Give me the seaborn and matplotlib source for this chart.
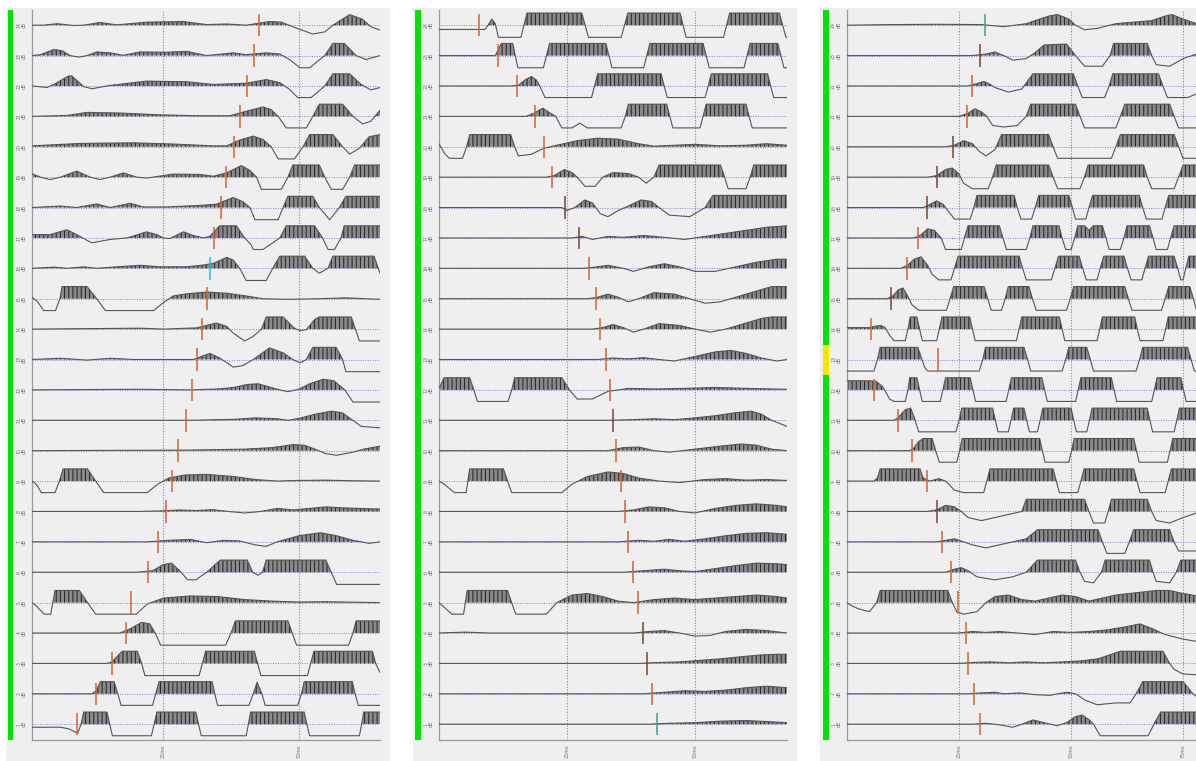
import numpy as np
import pandas as pd
import matplotlib
matplotlib.use("Agg")
import matplotlib.pyplot as plt
from matplotlib.patches import Rectangle
import seaborn as sns

# ---------------------------------------------------------------------------
# Data: three shot gathers, 24 channels each (listed from channel 24 down to 1).
# Each trace is a list of (time in ms, amplitude in trace-spacing units) knots,
# amplitudes already clipped at +/-0.4.
# ---------------------------------------------------------------------------
TRACE_IDS = list(range(24, 0, -1))

left_traces = [
    [(0.75,0),(2.9,0),(5.4,0.05),(8.4,-0.01),(10.3,0),(13.3,0.09),(16.4,0.01),(21.9,0.1),(28.7,0.12),(33,0.02),(36.7,0.04),(40.3,0),(44.6,0.12),(46.8,0.1),(48.9,-0.05),(52.6,-0.29),(54.8,-0.22),(56.3,0),(59.4,0.35),(61.8,0.19),(63.3,-0.05),(65,-0.16)],
    [(0.75,0),(2.3,0.03),(4.8,0.2),(6.3,0.16),(7.8,0),(9.4,-0.05),(10.9,0),(12.7,0.12),(15.2,0.09),(17.6,0.01),(20.7,0.12),(25.6,0.11),(29.3,0.14),(33,0),(37.9,0.09),(40.3,0.03),(44,0.09),(46.5,0.05),(48.3,-0.13),(50.2,-0.4),(52,-0.4),(54.8,0),(56.3,0.4),(58.4,0.4),(60.6,0),(62.4,-0.13),(65,0)],
    [(0.75,0),(3.5,-0.05),(4.8,0.05),(7.5,0.33),(8.1,0.33),(10.3,-0.02),(11.8,-0.09),(15.2,0.02),(21.9,0.16),(29.3,0.14),(34.2,0.05),(40.3,0.09),(44,0.21),(46.5,0.11),(48.3,-0.11),(49.8,-0.38),(52.3,-0.38),(54.8,0),(56.3,0.4),(59.4,0.4),(61.5,0.05),(63.3,-0.13),(65,-0.05)],
    [(0.75,0),(7.2,0.03),(10.9,0.13),(17,0.11),(24.4,0.05),(31.7,0.02),(37.3,0.02),(39.7,0.14),(43.4,0.31),(44.9,0.22),(46.2,0),(47.7,-0.38),(51.4,-0.38),(52.6,0),(53.8,0.4),(58.1,0.4),(60,0),(61.8,-0.25),(63.3,-0.16),(65,0.2)],
    [(0.75,0.03),(9.7,0.11),(19.5,0.13),(26.8,0.09),(34.2,0.03),(36.7,0.03),(39.1,0.22),(41.6,0.35),(43.4,0.24),(44.9,0),(46.2,-0.4),(49.2,-0.4),(50.8,0),(52,0.4),(56.3,0.4),(58.1,0),(59.4,-0.24),(61.2,-0.05),(63,0.33),(65,0.4)],
    [(0.75,0.11),(2.3,0),(4.1,-0.08),(6,0),(9,0.2),(11.5,0),(13.3,-0.08),(15.2,0),(17.6,0.14),(20.1,0),(21.9,-0.03),(26.8,0.1),(31.7,0.09),(34.2,0.03),(36.7,0.14),(39.4,0.38),(41,0.22),(42.2,0),(43.1,-0.4),(46.8,-0.4),(48,0),(48.9,0.4),(53.8,0.4),(54.8,0),(56,-0.4),(58.1,-0.4),(59.4,0),(60.3,0.4),(65,0.4)],
    [(0.75,0),(6,0.05),(9,0),(12.7,0.12),(15.2,0),(18.9,0.14),(21.3,0.02),(25.6,0.02),(31.7,0.07),(34.8,0.11),(37.9,0.33),(39.7,0.19),(41,0),(41.9,-0.4),(46.2,-0.4),(47.1,0),(48,0.37),(52.6,0.37),(53.8,0),(55.7,-0.4),(57.5,0),(58.7,0.37),(65,0.37)],
    [(0.75,0.11),(4.1,0.11),(7.2,0.27),(9,0.11),(10.9,-0.08),(11.8,-0.16),(15.2,-0.05),(18.3,0),(21.9,0.2),(23.8,0.11),(25,0),(26.2,-0.02),(28.7,0.2),(30.5,0.08),(32.4,0),(33.6,0.05),(35.4,0.4),(38.5,0.4),(40,0),(41.2,-0.22),(41.6,-0.38),(43.4,-0.38),(45.2,-0.16),(46.5,0),(47.7,0.4),(52.9,0.4),(54.4,0),(55.4,-0.38),(56.6,-0.38),(57.8,0),(58.4,0.4),(65,0.4)],
    [(0.75,0),(4.8,0.04),(7.2,0),(10.3,0.05),(12.7,0),(16.4,0.05),(20.7,0.1),(24.4,0.05),(29.3,0.05),(32.4,0.11),(34.2,0.16),(36.7,0.36),(37.9,0.27),(39.1,0),(40.3,-0.4),(44,-0.4),(45.2,0),(46.5,0.4),(51.1,0.4),(52.6,0),(53.8,-0.16),(55.4,0),(56.3,0.4),(63.9,0.4),(65,-0.16)],
    [(0.75,0.05),(1.7,-0.08),(2.9,-0.39),(5.1,-0.39),(5.9,0),(6.3,0.4),(10.9,0.4),(12.7,0),(14.3,-0.39),(23.2,-0.39),(25,-0.13),(26.8,0.09),(29.3,0.16),(33,0.22),(36.7,0.18),(40.3,0.09),(43.4,0),(47.7,-0.02),(53.8,0),(58.7,0.03),(65,-0.02)],
    [(0.75,0),(20.7,0.03),(25,0),(31.1,0.04),(34.8,0.2),(36.7,0.09),(37.9,-0.13),(40,-0.39),(41.6,-0.24),(43.1,0),(44,0.4),(47.1,0.4),(49.2,0.03),(50.2,-0.05),(51.4,-0.02),(52.9,0.31),(53.8,0.4),(59.7,0.4),(61.2,-0.39),(65,-0.39)],
    [(0.75,0),(6,0.04),(10.9,-0.02),(15.2,0.04),(19.5,0),(30.5,0),(33.6,0.2),(35.4,0.05),(37.9,-0.25),(39.7,-0.2),(41.6,0),(44.6,0.38),(47.1,0.22),(48.9,0),(50.2,-0.11),(51.4,0),(52.6,0.4),(56.9,0.4),(58.1,0),(58.7,-0.4),(65,-0.4)],
    [(0.75,0),(20,0.02),(30,0),(35,0.03),(38,0.08),(40.5,0.18),(42.5,0.2),(44.5,0.1),(46.5,0),(48,-0.06),(50,0.02),(52,0.2),(54.5,0.35),(56.5,0.3),(58.5,0),(60,-0.4),(65,-0.4)],
    [(0.75,0),(30,0),(38,0.03),(42,0.08),(46,0.05),(48,0),(50,0.06),(53,0.2),(56,0.3),(58,0.25),(60,0),(61.5,-0.2),(65,-0.25)],
    [(0.75,0),(30,0.02),(40,0.05),(45,0.1),(49,0.2),(51,0.18),(53,0.05),(55,-0.1),(57,-0.15),(60,-0.05),(62,0.05),(65,0.15)],
    [(0.75,0),(1.5,-0.1),(2.5,-0.38),(5,-0.38),(5.8,0),(6.5,0.4),(11,0.4),(12.5,0),(14,-0.38),(22,-0.38),(24,-0.1),(26,0.1),(29,0.2),(33,0.22),(38,0.15),(42,0.05),(46,0),(50,0.02),(55,0.03),(60,0.01),(65,0)],
    [(0.75,0),(20,0),(25,0.02),(28,0.05),(31,0.03),(34,0.06),(37,0),(40,-0.05),(43,0),(46,0.1),(49,0.05),(52,0.1),(55,0.15),(58,0.12),(61,0.1),(65,0.08)],
    [(0.75,0),(22,0),(26,0.05),(30,0.08),(33,-0.03),(36,0.05),(39,0.03),(42,-0.1),(44,-0.15),(46,0),(50,0.2),(54,0.3),(57,0.2),(60,0.05),(63,-0.05),(65,0)],
    [(0.75,0),(20,0),(23,0.05),(25,0.25),(26.5,0.3),(28,0.05),(29.5,-0.25),(31,-0.25),(33,0),(35.5,0.4),(40.5,0.4),(41.5,0),(42.5,-0.1),(43.3,0),(44,0.4),(55,0.4),(56,0),(57,-0.4),(65,-0.4)],
    [(0.75,0),(1.5,-0.1),(3,-0.38),(4.2,-0.38),(5,0.4),(9.5,0.4),(11,0),(12.5,-0.38),(20,-0.38),(22,-0.05),(25,0.15),(30,0.22),(35,0.2),(40,0.1),(45,0.05),(50,0.02),(55,0.03),(65,0)],
    [(0.75,0),(17,0),(19,0.15),(21,0.35),(22.5,0.3),(23.5,0),(24.5,-0.4),(36.5,-0.4),(37.5,0),(38.3,0.4),(48,0.4),(48.8,0),(49.6,-0.4),(59.2,-0.4),(60,0),(60.6,0.4),(65,0.4)],
    [(0.75,0),(14.5,0),(15.5,0.05),(17.4,0.4),(20.2,0.4),(21,0),(21.6,-0.4),(31.6,-0.4),(32.2,0),(32.8,0.4),(41.8,0.4),(42.4,0),(43,-0.4),(51.6,-0.4),(52.2,0),(52.8,0.4),(63.6,0.4),(64.2,0),(65,-0.3)],
    [(0.75,0),(11.8,0),(12.6,0.1),(13.4,0.4),(15.9,0.4),(16.6,0),(17.2,-0.38),(23,-0.38),(23.6,0),(24.2,0.4),(34,0.4),(34.5,0),(35,-0.38),(40.8,-0.38),(41.6,0),(42.3,0.38),(43.2,0),(43.8,-0.38),(49.8,-0.38),(50.5,0),(51,0.4),(59.9,0.4),(60.4,0),(61,-0.38),(65,-0.38)],
    [(0.75,-0.1),(6,-0.1),(7.5,-0.15),(9.2,-0.3),(9.8,0),(10.3,0.4),(14.6,0.4),(15.1,0),(15.6,-0.38),(22.8,-0.38),(23.3,0),(23.8,0.4),(31,0.4),(31.5,0),(32,-0.38),(40.3,-0.38),(40.7,0),(41.1,0.4),(51,0.4),(51.5,0),(52,-0.38),(61.2,-0.38),(61.6,0),(62,0.4),(65,0.4)],
]
left_picks = [42.7, 41.7, 40.5, 39.1, 38.1, 36.5, 35.6, 34.4, 33.6, 33.1, 32.2, 31.3,
              30.3, 29.2, 27.7, 26.6, 25.5, 24.0, 22.2, 19.0, 18.1, 15.5, 12.6, 9.1]
left_pick_kind = ["o"] * 8 + ["c"] + ["o"] * 15

middle_traces = [
    [(0,-0.14),(9,-0.14),(9.6,0),(10.3,0.2),(11,0.05),(11.6,-0.4),(16,-0.4),(17.2,0.4),(27.9,0.4),(29.2,-0.4),(35.6,-0.4),(36.9,0.4),(47.1,0.4),(48.3,-0.4),(55.6,-0.4),(56.8,0.4),(66.5,0.4),(67.8,-0.4),(68,-0.4)],
    [(0,0),(11,0),(12.2,0.4),(14.4,0.4),(15.4,-0.4),(20.4,-0.4),(21.6,0.4),(32.6,0.4),(33.8,-0.4),(40,-0.4),(41.2,0.4),(51.6,0.4),(52.8,-0.4),(59.6,-0.4),(60.8,0.4),(66.2,0.4),(67.4,-0.4),(68,-0.4)],
    [(0,0),(14,0),(15.5,0.02),(17,0.22),(18.1,0.31),(19,0.2),(19.7,0),(20.7,-0.38),(29.8,-0.38),(30.4,0),(31,0.4),(43.4,0.4),(44,0),(44.6,-0.38),(52,-0.38),(52.6,0),(53.2,0.4),(64.2,0.4),(64.8,0),(65.4,-0.38),(68,-0.38)],
    [(0,0),(17,0),(18.5,0.1),(20.3,0.27),(21.8,0.1),(22.8,0),(24,-0.38),(26,-0.38),(27.5,-0.22),(29,-0.38),(35.6,-0.38),(36.4,0),(37,0.4),(44.5,0.4),(45.1,0),(45.7,-0.38),(51,-0.38),(51.6,0),(52.2,0.4),(60,0.4),(60.6,0),(61.2,-0.38),(68,-0.38)],
    [(0,0.1),(1,-0.2),(2,-0.38),(4.6,-0.38),(5.4,0),(6,0.4),(14,0.4),(14.8,0),(15.5,-0.3),(18,-0.25),(20.5,-0.05),(23,0.05),(27,0.2),(31,0.28),(35,0.25),(39,0.1),(42,0.02),(46,0.05),(50,0.08),(55,0.03),(60,0.05),(64,0.1),(68,0.05)],
    [(0,0),(21,0),(22.5,0.05),(24.5,0.25),(26,0.15),(27,0),(28.5,-0.3),(30.5,-0.3),(32,0),(34,0.15),(37,0.12),(39,0),(40.5,-0.2),(42,0),(43,0.4),(55,0.4),(55.8,0),(56.5,-0.38),(60,-0.38),(60.8,0),(61.5,0.4),(68,0.4)],
    [(0,0),(24,0),(25,-0.1),(26.5,0),(28.5,0.25),(30,0.15),(31.5,-0.2),(33,-0.3),(35,-0.1),(37,0.05),(39.5,0.25),(41.5,0.2),(43,0),(45,-0.25),(49,-0.3),(52,0),(53.5,0.4),(68,0.4)],
    [(0,0),(26,0),(28,0.05),(30,-0.05),(33,0.05),(36,0.02),(40,0.08),(44,0.02),(48,-0.05),(52,0.05),(56,0.15),(60,0.25),(64,0.35),(68,0.4)],
    [(0,0),(28,0),(30,0.03),(33,0.1),(36,0),(38,-0.1),(41,0.05),(44,0.15),(47,0.05),(50,-0.1),(54,-0.1),(58,0.05),(62,0.2),(66,0.3),(68,0.3)],
    [(0,0),(29,0),(31,0.05),(33,0.15),(35,0.05),(37,-0.1),(39,0),(42,0.2),(46,0.15),(49,0),(52,-0.15),(55,-0.1),(58,0.05),(62,0.25),(65,0.4),(68,0.4)],
    [(0,0),(30,0),(32,0.05),(34,0.15),(36,0.05),(38,-0.1),(40,0),(43,0.18),(47,0.12),(50,0),(53,-0.1),(56,0),(60,0.2),(63,0.35),(65,0.4),(68,0.4)],
    [(0,0),(31,0),(34,0.05),(37,0.02),(40,0.06),(43,0),(46,-0.05),(50,0.1),(54,0.25),(57,0.3),(60,0.2),(63,0.05),(66,-0.05),(68,0)],
    [(0,0.05),(1,0.4),(6,0.4),(6.8,0),(7.5,-0.38),(13.5,-0.38),(14.2,0),(14.8,0.4),(24,0.4),(25.5,0),(27,-0.3),(30,-0.3),(33,-0.05),(37,0.05),(42,0.03),(48,0.05),(54,0.08),(60,0.05),(68,0.02)],
    [(0,0),(33,0),(38,0.02),(42,0.05),(46,0.02),(50,0.08),(54,0.15),(58,0.25),(61,0.3),(63,0.2),(65,0),(68,-0.2)],
    [(0,0),(33,0),(36,0.1),(39,0.12),(42,0),(45,-0.05),(50,0.05),(55,0.15),(59,0.22),(62,0.18),(65,0.05),(68,0)],
    [(0,0),(1,-0.1),(3,-0.38),(5.3,-0.38),(6,0.4),(12.6,0.4),(13.4,0),(14.2,-0.38),(24,-0.38),(26,-0.1),(29,0.15),(33,0.3),(36,0.25),(39,0.1),(43,0),(47,-0.05),(52,0.05),(56,0.08),(60,0.03),(64,0.05),(68,0.02)],
    [(0,0),(35,0),(38,0.05),(41,0.15),(44,0.12),(47,0),(50,-0.05),(54,0.1),(58,0.2),(62,0.25),(66,0.2),(68,0.15)],
    [(0,0),(35,0),(39,0.05),(42,0.02),(45,0.08),(48,0.02),(52,0.1),(56,0.2),(60,0.28),(64,0.3),(68,0.25)],
    [(0,0),(36,0),(40,0.05),(44,0.1),(47,0.05),(50,0.02),(54,0.12),(58,0.22),(62,0.3),(66,0.28),(68,0.25)],
    [(0,0),(1,-0.15),(2.5,-0.38),(4.8,-0.38),(5.5,0.4),(13.4,0.4),(14.2,0),(15,-0.38),(21,-0.38),(23,0),(26,0.25),(29,0.3),(32,0.2),(35,0.05),(38,0),(42,0.1),(46,0.15),(50,0.1),(54,0.15),(58,0.2),(62,0.25),(66,0.2),(68,0.15)],
    [(0,0),(5,0.03),(10,0),(38,0),(41,0.05),(44,0.08),(47,0),(50,-0.1),(53,-0.08),(56,0.05),(60,0.12),(64,0.08),(68,0)],
    [(0,0),(39,0),(43,0.03),(47,0.05),(51,0.1),(55,0.15),(59,0.22),(63,0.28),(66,0.3),(68,0.3)],
    [(0,0),(40,0),(44,0.05),(48,0.1),(52,0.08),(56,0.12),(60,0.2),(64,0.25),(68,0.2)],
    [(0,0),(41,0),(45,0.03),(50,0.05),(55,0.1),(60,0.12),(65,0.08),(68,0.05)],
]
middle_picks = [7.9, 11.5, 15.2, 18.8, 20.5, 22.1, 24.6, 27.3, 29.3, 30.7, 31.4, 32.6,
                33.4, 34.0, 34.6, 35.5, 36.3, 36.9, 37.9, 38.9, 39.8, 40.6, 41.6, 42.6]
middle_pick_kind = ["o"] * 6 + ["d", "d"] + ["o"] * 5 + ["d"] + ["o"] * 6 + ["d", "d", "o", "t"]

right_traces = [
    [(0,0),(10,0.02),(20,0.03),(30,0.02),(35,-0.05),(40,0.05),(42,0.15),(45,0.3),(47,0.35),(49.5,0.2),(51,0),(53,-0.15),(56,-0.1),(60,0.05),(64,0.1),(68,0.15),(71,0.3),(72.5,0.35),(75,0.2),(79,0)],
    [(0,0),(28,0),(31,0.05),(33,0.12),(35,0),(37,-0.15),(40,-0.1),(42,0.1),(44,0.35),(49,0.38),(51,0),(53,-0.35),(57,-0.35),(58.7,0),(59.5,0.4),(67,0.4),(68,0),(69,-0.3),(72,-0.35),(75,-0.1),(79,0.1)],
    [(0,0),(27,0),(29,0.08),(30.5,0.15),(32,0.05),(33,-0.05),(36,-0.2),(39,-0.1),(40.5,0.2),(41.5,0.4),(50.5,0.4),(51.5,0),(52.5,-0.38),(57.5,-0.38),(58.5,0),(59.3,0.4),(69.5,0.4),(70.5,0),(71.5,-0.38),(76,-0.38),(79,-0.2)],
    [(0,0),(25,0),(27,0.1),(28.5,0.25),(30,0.15),(31.2,0),(32.5,-0.3),(35,-0.35),(38,-0.3),(40,0),(41,0.4),(51,0.4),(52,0),(53,-0.38),(60,-0.38),(61,0),(62,0.4),(72,0.4),(73,0),(74,-0.38),(79,-0.38)],
    [(0,0),(22,0),(24,0.05),(26,0.2),(28,0.1),(29.5,-0.15),(31,-0.3),(33,-0.1),(34.5,0.4),(45,0.4),(46,0),(47,-0.38),(59,-0.38),(60,0),(61,0.4),(73,0.4),(74,0),(75,-0.38),(79,-0.38)],
    [(0,0),(18,0),(20,0.05),(22,0.25),(23.5,0.3),(25,0.1),(26,-0.2),(28,-0.38),(31.5,-0.38),(32.5,0),(33.3,0.4),(45,0.4),(46,0),(47,-0.38),(52,-0.38),(53,0),(53.8,0.4),(66.2,0.4),(67,0),(68,-0.38),(73,-0.38),(74,0),(75,0.4),(79,0.4)],
    [(0,0),(17,0),(18.5,0.1),(20,0.22),(21.5,0.1),(22.5,-0.1),(24,-0.38),(27.5,-0.38),(28.3,0),(29,0.4),(37.3,0.4),(38,0),(38.8,-0.38),(41.2,-0.38),(42,0),(42.8,0.4),(49.5,0.4),(50.3,0),(51,-0.38),(53.3,-0.38),(54,0),(54.8,0.4),(65.2,0.4),(66,0),(66.8,-0.38),(70.3,-0.38),(71,0),(71.8,0.4),(79,0.4)],
    [(0,0),(15,0),(16.5,0.1),(18,0.3),(19.5,0.25),(21,0),(22,-0.38),(25.5,-0.38),(26.2,0),(27,0.4),(34,0.4),(34.8,0),(35.6,-0.38),(40,-0.38),(40.8,0),(41.5,0.4),(47.3,0.4),(48,0),(48.8,-0.38),(50,-0.38),(50.8,0),(51.5,0.4),(53,0.4),(54,0.25),(55,0.4),(57,0.4),(57.8,0),(58.5,-0.38),(61,-0.38),(61.8,0),(62.5,0.4),(67.5,0.4),(68.3,0),(69,-0.38),(71.5,-0.38),(72.2,0),(73,0.4),(79,0.4)],
    [(0,0),(12,0),(13.5,0.1),(15,0.3),(16.5,0.38),(18,0.1),(19,-0.2),(20.5,-0.38),(23.2,-0.38),(24,0),(24.8,0.4),(38.4,0.4),(39.2,0),(40,-0.38),(45.6,-0.38),(46.4,0),(47.2,0.4),(51.8,0.4),(52.6,0),(53.4,-0.38),(55.8,-0.38),(56.5,0),(57.3,0.4),(61.8,0.4),(62.6,0),(63.4,-0.38),(65.8,-0.38),(66.5,0),(67.3,0.4),(73,0.4),(73.8,0),(74.5,-0.38),(75,-0.38),(75.6,0),(76.3,0.4),(79,0.4)],
    [(0,0),(9,0),(10.3,0.1),(11.5,0.3),(12.5,0.35),(13.5,0.1),(14.5,-0.2),(16,-0.38),(22.2,-0.38),(23,0),(23.8,0.4),(30.6,0.4),(31.4,0),(32.2,-0.38),(34.5,-0.38),(35.3,0),(36,0.4),(40.6,0.4),(41.4,0),(42.2,-0.38),(49,-0.38),(49.8,0),(50.6,0.4),(62,0.4),(62.8,0),(63.6,-0.38),(70.2,-0.38),(71,0),(71.8,0.4),(76.5,0.4),(77.3,0),(78,-0.38),(79,-0.38)],
    [(0,0.05),(5,0.05),(6.5,0.1),(7.5,0.12),(8.5,0.05),(9.5,-0.2),(10.5,-0.38),(13,-0.38),(13.6,0),(14.1,0.4),(15.6,0.4),(16.2,0),(16.8,-0.38),(20,-0.38),(20.6,0),(21.2,0.4),(27.4,0.4),(28,0),(28.6,-0.38),(37.8,-0.38),(38.4,0),(39,0.4),(47.4,0.4),(48,0),(48.6,-0.38),(55.8,-0.38),(56.4,0),(57,0.4),(64.2,0.4),(64.8,0),(65.4,-0.38),(70.5,-0.38),(71.1,0),(71.7,0.4),(79,0.4)],
    [(0,-0.38),(6,-0.38),(6.8,0),(7.4,0.4),(15.8,0.4),(16.5,0.1),(17.3,-0.25),(18,-0.38),(29.5,-0.38),(30.3,0),(30.9,0.4),(39.5,0.4),(40.3,0),(41,-0.38),(48,-0.38),(48.8,0),(49.5,0.4),(53.5,0.4),(54.3,0),(55,-0.38),(64.5,-0.38),(65.3,0),(66,0.4),(76,0.4),(76.8,0),(77.5,-0.38),(79,-0.38)],
    [(0,0.3),(5,0.3),(6.5,0.28),(8,0.1),(9.5,-0.3),(10.5,-0.38),(13,-0.38),(13.6,0),(14,0.4),(15.6,0.4),(16.2,0),(16.8,-0.38),(20.8,-0.38),(21.4,0),(22,0.4),(27.5,0.4),(28.1,0),(28.7,-0.38),(35.5,-0.38),(36.1,0),(36.7,0.4),(43.5,0.4),(44.1,0),(44.7,-0.38),(51,-0.38),(51.6,0),(52.2,0.4),(59,0.4),(59.6,0),(60.2,-0.38),(68,-0.38),(68.6,0),(69.2,0.4),(74.5,0.4),(75.1,0),(75.7,-0.38),(79,-0.38)],
    [(0,0),(10.5,0),(11.5,0.1),(13,0.35),(14.2,0.4),(15,0.1),(16,-0.38),(24.3,-0.38),(25,0),(25.6,0.4),(32.5,0.4),(33.1,0),(33.7,-0.38),(36,-0.38),(36.6,0),(37.2,0.4),(39.5,0.4),(40.1,0),(40.7,-0.38),(42.5,-0.38),(43.1,0),(43.7,0.4),(50,0.4),(50.6,0),(51.2,-0.38),(53.5,-0.38),(54.1,0),(54.7,0.4),(67,0.4),(67.6,0),(68.2,-0.38),(73,-0.38),(73.6,0),(74.2,0.4),(79,0.4)],
    [(0,0),(14,0),(15,0.1),(16,0.3),(17,0.4),(19,0.4),(19.8,0),(20.6,-0.38),(24.5,-0.38),(25.1,0),(25.7,0.4),(43,0.4),(43.6,0),(44.2,-0.38),(49.5,-0.38),(50.1,0),(50.7,0.4),(64,0.4),(64.6,0),(65.2,-0.38),(71.5,-0.38),(72.1,0),(72.7,0.4),(79,0.4)],
    [(0,0),(6,0),(6.8,0.1),(7.4,0.4),(16.3,0.4),(17,0.1),(18.5,0),(20.5,0.08),(22,0),(24,-0.3),(26,-0.38),(30.5,-0.38),(31.2,0),(31.9,0.4),(46,0.4),(46.7,0),(47.4,-0.38),(51.5,-0.38),(52.2,0),(52.9,0.4),(64,0.4),(64.7,0),(65.4,-0.38),(71,-0.38),(71.7,0),(72.4,0.4),(79,0.4)],
    [(0,0),(18,0),(20,0.05),(22,0.2),(24,0.15),(25.5,0),(27,-0.2),(30,-0.3),(33,-0.2),(36,-0.1),(39,0),(40,0.4),(53,0.4),(54,0),(55,-0.38),(57.5,-0.38),(58.3,0),(59,0.4),(67,0.4),(68,0),(69,-0.3),(72,-0.38),(75,-0.2),(79,0)],
    [(0,0),(20,0),(22,0.05),(24,0.1),(26,0),(28,-0.1),(31,-0.2),(34,-0.1),(37,0),(40,0.1),(42.5,0.4),(56,0.4),(57,0),(58,-0.38),(62,-0.38),(63,0),(64,0.4),(72,0.4),(73,0),(74,-0.3),(79,-0.3)],
    [(0,0),(22,0),(24,0.1),(25.5,0.15),(27,0.05),(29,-0.15),(33,-0.25),(37,-0.15),(40,0),(42.5,0.4),(51,0.4),(52,0),(53,-0.3),(55,-0.35),(56.8,0),(57.6,0.4),(67.5,0.4),(68.3,0),(69,-0.3),(72,-0.35),(73.5,0),(74.5,0.4),(79,0.4)],
    [(0,0),(1,-0.1),(2.5,-0.2),(5,-0.3),(6.6,0),(7.4,0.4),(22.5,0.4),(23.5,0),(24.5,-0.3),(26,-0.38),(29,-0.3),(31,0),(33,0.2),(36,0.25),(39,0.1),(42,0.05),(45,0.15),(48,0.25),(51,0.2),(54,0.05),(57,0.15),(60,0.25),(63,0.3),(66,0.35),(69,0.4),(72,0.4),(75,0.3),(79,0.2)],
    [(0,0),(25,0),(28,0.05),(31,0.02),(34,0.05),(38,0),(42,-0.05),(46,0.05),(50,0.02),(54,0.05),(58,0.1),(62,0.2),(65.4,0.3),(68,0.15),(71,-0.05),(75,-0.2),(79,-0.3)],
    [(0,0),(25,0),(28,0.03),(32,0.05),(36,0.02),(40,0.05),(44,0.02),(48,0.05),(52,0.08),(56,0.15),(59,0.3),(61,0.4),(70.5,0.4),(72,0),(73,-0.2),(75,-0.35),(79,-0.38)],
    [(0,0),(27,0),(30,0.03),(33,0.05),(35,0),(38.6,0.03),(42,-0.03),(45.3,-0.05),(47,0),(49.1,0.05),(51,0),(53,-0.2),(55.8,-0.36),(60,-0.3),(63.2,-0.3),(64.5,0),(66,0.4),(75,0.4),(77.2,0),(79,-0.2)],
    [(0,0),(28,0),(31,0.03),(34,-0.02),(37,-0.1),(39,0),(41.5,0.14),(44,0.05),(46.9,-0.05),(49,0.05),(51,0.25),(52.5,0.3),(54,0.15),(55,0),(56.5,-0.38),(67.2,-0.38),(68.5,0),(70,0.4),(79,0.4)],
]
right_picks = [30.8, 29.7, 27.9, 26.8, 23.7, 20.1, 17.9, 15.8, 13.4, 9.8, 5.4, 20.2,
               6.0, 11.4, 14.5, 17.9, 20.1, 21.2, 23.2, 24.8, 26.6, 27.0, 28.3, 29.7]
right_pick_kind = ["t", "d", "o", "o", "d", "d", "d", "o", "o", "d", "o", "o",
                   "o", "o", "o", "o", "d", "o", "o", "o", "o", "o", "o", "o"]
right_status = ["ok"] * 11 + ["warn"] + ["ok"] * 12

TICKS_MS = [25, 50, 75]

# ---------------------------------------------------------------------------
PICK_COLORS = {"o": "#d9622c", "c": "#19c6d6", "t": "#3f9e96", "d": "#6e4634"}
STATUS_COLORS = {"ok": "#00e600", "warn": "#f5e600"}
PANEL_BG = "#efefef"
WIGGLE = "#555555"
FILL_FACE = "#8a8a8a"
FILL_HATCH = "#222222"
GRID_BLUE = "#8080d0"

W, H = 1196, 761
sns.set_style("white")
plt.rcParams["hatch.linewidth"] = 0.7
fig = plt.figure(figsize=(W / 100, H / 100), dpi=100)
fig.patch.set_facecolor("white")


def frac_box(x0, y0, x1, y1):
    """Pixel box (top-left origin) -> figure fraction [l, b, w, h]."""
    return [x0 / W, 1 - y1 / H, (x1 - x0) / W, (y1 - y0) / H]


def draw_gather(bg, bar, axbox, xlim, traces, picks, kinds, status):
    l, b, w, h = frac_box(*bg)
    fig.add_artist(Rectangle((l, b), w, h, transform=fig.transFigure,
                             facecolor=PANEL_BG, edgecolor="none", zorder=0))
    ax = fig.add_axes(frac_box(*axbox))
    ax.set_facecolor("none")
    ax.set_xlim(*xlim)
    ax.set_ylim(0.48, 24.5)

    # status strip beside the channel labels, one cell per channel
    bl, bb, bw, bh = frac_box(*bar)
    step = bh / 24.0
    for i, tid in enumerate(TRACE_IDS):
        y0 = bb + bh - (i + 1) * step
        fig.add_artist(Rectangle((bl, y0), bw, step, transform=fig.transFigure,
                                 facecolor=STATUS_COLORS[status[i]],
                                 edgecolor="none", zorder=1))

    # reference lines
    for tid in TRACE_IDS:
        ax.axhline(tid, color=GRID_BLUE, lw=0.7, ls=(0, (1, 1.5)), zorder=1)
    for tk in TICKS_MS:
        if xlim[0] < tk < xlim[1]:
            ax.axvline(tk, color=GRID_BLUE, lw=0.8, ls=(0, (1, 1.5)), zorder=1)

    # variable-area wiggle traces
    rows = []
    for tid, knots in zip(TRACE_IDS, traces):
        t = np.array([k[0] for k in knots], dtype=float)
        a = np.array([k[1] for k in knots], dtype=float)
        ax.fill_between(t, tid, tid + a, where=a > 0, interpolate=True,
                        facecolor=FILL_FACE, edgecolor=FILL_HATCH, hatch="||||",
                        linewidth=0, zorder=2)
        rows.append(pd.DataFrame({"t": t, "y": tid + a, "trace": tid}))
    df = pd.concat(rows, ignore_index=True)
    sns.lineplot(data=df, x="t", y="y", units="trace", estimator=None, sort=False,
                 color=WIGGLE, linewidth=0.8, ax=ax, legend=False, zorder=3)

    # first-break picks
    for tid, tp, kd in zip(TRACE_IDS, picks, kinds):
        ax.vlines(tp, tid - 0.37, tid + 0.37, color=PICK_COLORS[kd], lw=1.1, zorder=4)

    # channel labels
    for tid in TRACE_IDS:
        ax.text(-0.038, tid, f"{tid}", transform=ax.get_yaxis_transform(),
                rotation=90, fontsize=3.3, color="#707070", ha="center", va="center")
        ax.text(-0.022, tid, "dB", transform=ax.get_yaxis_transform(),
                rotation=90, fontsize=3.3, color="#707070", ha="center", va="center")

    shown = [tk for tk in TICKS_MS if xlim[0] < tk < xlim[1]]
    ax.set_xticks(shown)
    ax.set_xticklabels([f"{tk}ms" for tk in shown], rotation=90, fontsize=3.5,
                       color="#707070")
    ax.tick_params(axis="x", length=0, pad=3)
    ax.set_yticks([])
    ax.set_xlabel("")
    ax.set_ylabel("")
    for side in ("top", "right"):
        ax.spines[side].set_visible(False)
    for side in ("left", "bottom"):
        ax.spines[side].set_color("#9a9a9a")
        ax.spines[side].set_linewidth(0.9)
    return ax


draw_gather((6, 8, 390, 761), (8, 10, 13, 740), (32, 10, 380, 740), (0.75, 65.0),
            left_traces, left_picks, left_pick_kind, ["ok"] * 24)
draw_gather((413, 8, 797, 761), (415, 10, 421, 740), (439, 10, 787, 740), (0.0, 68.0),
            middle_traces, middle_picks, middle_pick_kind, ["ok"] * 24)
draw_gather((820, 8, 1205, 761), (823, 10, 829, 740), (847, 10, 1201, 740), (0.0, 79.0),
            right_traces, right_picks, right_pick_kind, right_status)

fig.savefig("out.png", dpi=100, facecolor="white")
